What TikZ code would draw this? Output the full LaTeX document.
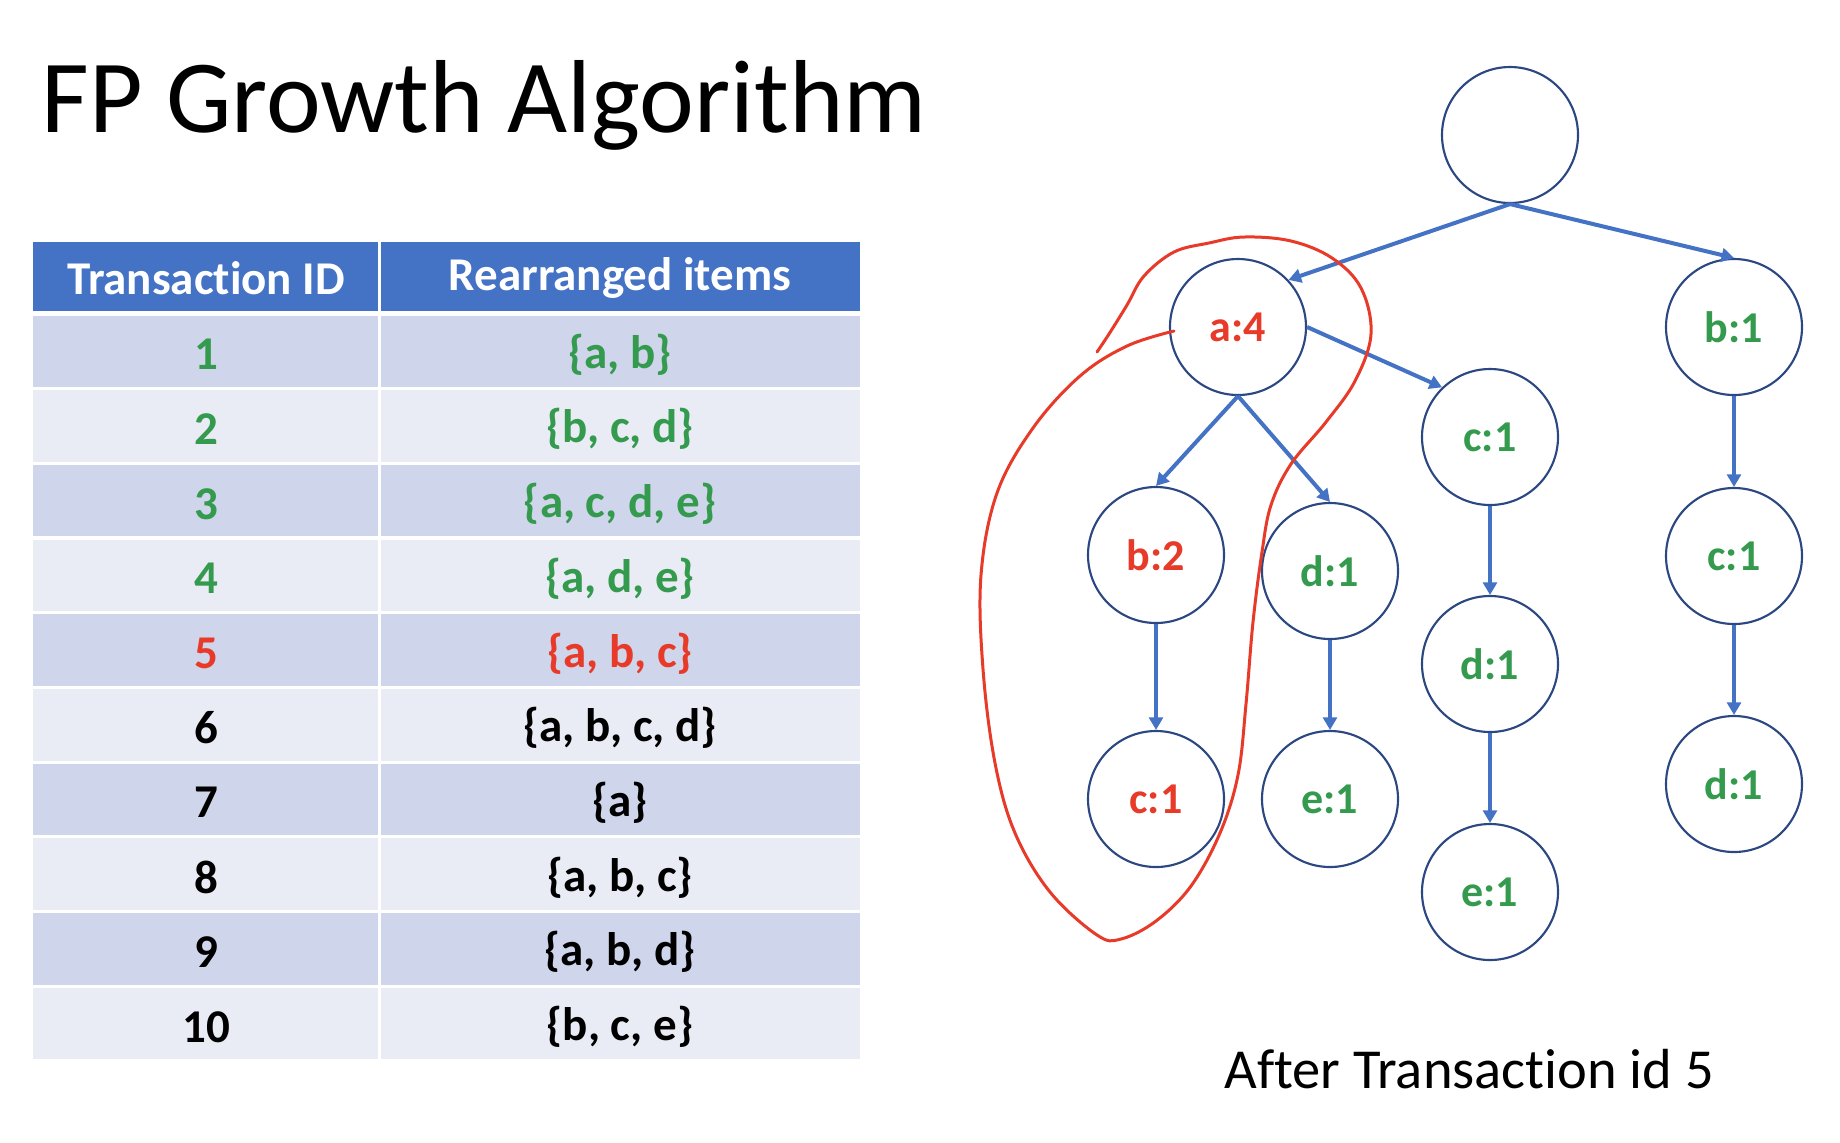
\documentclass[tikz,border=0pt]{standalone}
\usepackage{fontspec}
\setmainfont{Carlito}[Ligatures={NoCommon,NoContextual}]
\usetikzlibrary{arrows.meta}
\definecolor{hdrblue}{HTML}{4472C4}
\definecolor{rowdark}{HTML}{CFD5EA}
\definecolor{rowlight}{HTML}{E9EBF5}
\definecolor{itemgreen}{RGB}{52,154,78}
\definecolor{itemred}{RGB}{232,58,40}
\definecolor{circline}{RGB}{44,72,130}
\definecolor{arrowblue}{HTML}{4472C4}
\tikzset{
  tnode/.style={circle,draw=circline,line width=0.85pt,minimum size=54.4pt,inner sep=0pt,font=\fontsize{17.6}{20}\selectfont\bfseries},
  edge/.style={draw=arrowblue,line width=1.6pt,-{Triangle[length=5pt,width=5.5pt]}},
  cell/.style={font=\fontsize{18.8}{22}\selectfont\bfseries,inner sep=0pt,anchor=center},
  lasso/.style={draw=itemred,line width=1.2pt,line cap=round}
}
\begin{document}
\begin{tikzpicture}[x=0.4pt,y=-0.4pt]
\useasboundingbox[fill=white] (0,0) rectangle (1840,1142);
% title
\node[anchor=base west,inner sep=0pt,font=\fontsize{41.5}{48}\selectfont] (title) at (41,132) {FP Growth Algorithm};
% table background
\fill[hdrblue] (33,242) rectangle (860,311);
\foreach \i in {1,...,10}{
  \pgfmathsetmacro{\top}{315.5+74.7*(\i-1)}
  \pgfmathsetmacro{\bot}{\top+71.5}
  \ifodd\i
    \fill[rowdark] (33,\top) rectangle (860,\bot);
  \else
    \fill[rowlight] (33,\top) rectangle (860,\bot);
  \fi
}
\fill[white] (377.5,242) rectangle (380.5,1060);
% header
\node[cell,text=white] (h1) at (206,278) {Transact\kern0pt ion ID};
\node[cell,text=white] (h2) at (620,278) {Rearranged items};
% rows
\node[cell,text=itemgreen] (id1) at (206,354.5) {1};
\node[cell,text=itemgreen] (it1) at (620,354.5) {\{a, b\}};
\node[cell,text=itemgreen] (id2) at (206,429.2) {2};
\node[cell,text=itemgreen] (it2) at (620,429.2) {\{b, c, d\}};
\node[cell,text=itemgreen] (id3) at (206,503.9) {3};
\node[cell,text=itemgreen] (it3) at (620,503.9) {\{a, c, d, e\}};
\node[cell,text=itemgreen] (id4) at (206,578.6) {4};
\node[cell,text=itemgreen] (it4) at (620,578.6) {\{a, d, e\}};
\node[cell,text=itemred] (id5) at (206,653.3) {5};
\node[cell,text=itemred] (it5) at (620,653.3) {\{a, b, c\}};
\node[cell,text=black] (id6) at (206,728.0) {6};
\node[cell,text=black] (it6) at (620,728.0) {\{a, b, c, d\}};
\node[cell,text=black] (id7) at (206,802.7) {7};
\node[cell,text=black] (it7) at (620,802.7) {\{a\}};
\node[cell,text=black] (id8) at (206,877.4) {8};
\node[cell,text=black] (it8) at (620,877.4) {\{a, b, c\}};
\node[cell,text=black] (id9) at (206,952.1) {9};
\node[cell,text=black] (it9) at (620,952.1) {\{a, b, d\}};
\node[cell,text=black] (id10) at (206,1026.8) {10};
\node[cell,text=black] (it10) at (620,1026.8) {\{b, c, e\}};
% tree
\node[tnode] (root) at (1510,135) {};
\node[tnode,text=itemred] (a4) at (1238,327) {a:4};
\node[tnode,text=itemgreen] (b1) at (1734,327) {b:1};
\node[tnode,text=itemgreen] (c1m) at (1490,437) {c:1};
\node[tnode,text=itemred] (b2) at (1156,555) {b:2};
\node[tnode,text=itemgreen] (d1l) at (1330,571) {d:1};
\node[tnode,text=itemgreen] (c1r) at (1734,556) {c:1};
\node[tnode,text=itemgreen] (d1m) at (1490,664) {d:1};
\node[tnode,text=itemred] (c1red) at (1156,799) {c:1};
\node[tnode,text=itemgreen] (e1l) at (1330,799) {e:1};
\node[tnode,text=itemgreen] (d1r) at (1734,784) {d:1};
\node[tnode,text=itemgreen] (e1m) at (1490,892) {e:1};
\draw[edge] (root.south) -- (a4.43);
\draw[edge] (root.south) -- (b1.north);
\draw[edge] (a4.east) -- (c1m.134);
\draw[edge] (a4.south) -- (b2.north);
\draw[edge] (a4.south) -- (d1l.north);
\draw[edge] (b2) -- (c1red);
\draw[edge] (d1l) -- (e1l);
\draw[edge] (c1m) -- (d1m);
\draw[edge] (d1m) -- (e1m);
\draw[edge] (b1) -- (c1r);
\draw[edge] (c1r) -- (d1r);
% lasso
\draw[lasso] plot[smooth,tension=0.6] coordinates {
(1174,331) (1127,346) (1080,376) (1033,428) (997,493) (981,575) (983,669)
(995,763) (1015,833) (1050,892) (1097,935) (1121,939) (1156,921) (1191,886)
(1220,833) (1238,775) (1246,704) (1253,622) (1262,552) (1271,505) (1291,464)
(1326,422) (1355,381) (1371,334) (1361,288) (1332,258) (1291,241) (1244,237)
(1209,243) (1174,252) (1144,276) (1127,305) (1109,334) (1097,352)};
% caption
\node[anchor=base west,inner sep=0pt,font=\fontsize{22.6}{26}\selectfont] (caption) at (1224,1088) {After Transact\kern0pt ion id 5};
\end{tikzpicture}
\end{document}
